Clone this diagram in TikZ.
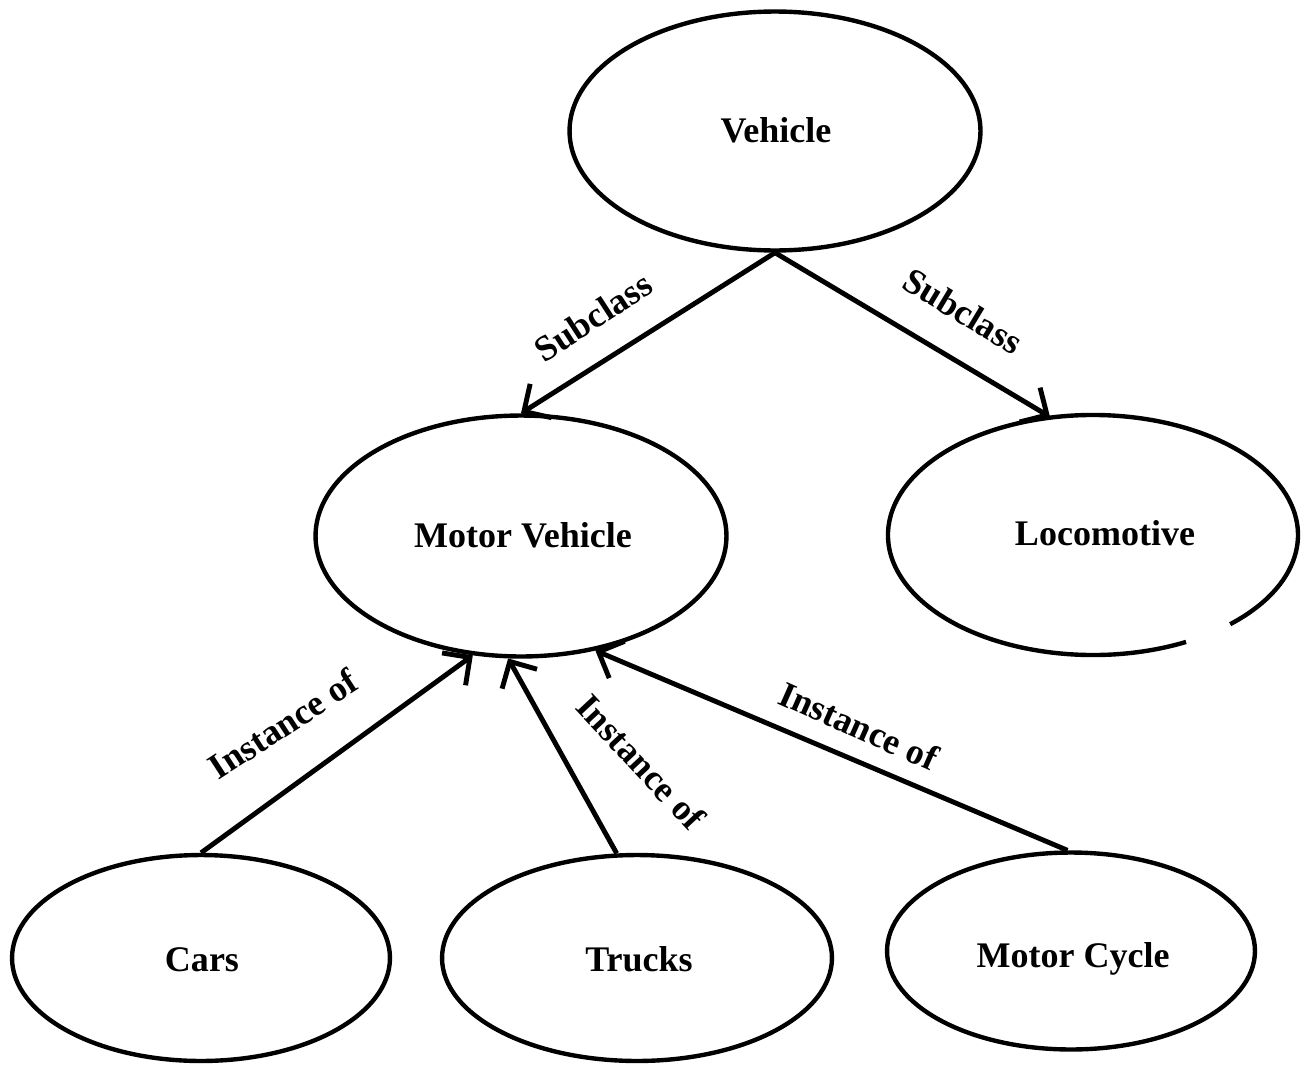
\documentclass[tikz,border=0pt]{standalone}
\usepackage{fontspec}
\setmainfont{Liberation Serif}
\usetikzlibrary{shapes.geometric,arrows.meta}
\begin{document}
\begin{tikzpicture}[x=0.02cm,y=-0.02cm,
  every node/.style={font=\bfseries\fontsize{20.5}{24}\selectfont},
  oval/.style={ellipse,draw,line width=2.5pt,inner sep=0pt},
  ovaltext/.style={anchor=base,inner sep=0pt},
  link/.style={line width=2.8pt,-{Straight Barb[length=0.4cm,width=0.8cm,line width=2.8pt]}},
  tag/.style={inner sep=1pt}]
\useasboundingbox (0,0) rectangle (1302,1065);

% class hierarchy
\node[oval,minimum width=8.22cm,minimum height=4.78cm] (veh) at (775,131) {};
\node[ovaltext] (vehT) at (776,142) {Vehicle};
\node[oval,minimum width=8.22cm,minimum height=4.82cm] (mv) at (521,536) {};
\node[ovaltext] (mvT) at (523,547) {Motor Vehicle};
\node[ellipse,inner sep=0pt,minimum width=8.22cm,minimum height=4.82cm] (loco) at (1093,535) {};
\node[ovaltext] (locoT) at (1105,545) {Locomotive};
% outline of the locomotive oval, with its small break at the lower right
\draw[line width=2.5pt] ([shift={(63:205 and 120)}]loco.center)
  arc[start angle=63,end angle=408,x radius=205,y radius=120];

% instances
\node[oval,minimum width=7.56cm,minimum height=4.12cm] (cars) at (201,958) {};
\node[ovaltext] (carsT) at (202,971) {Cars};
\node[oval,minimum width=7.8cm,minimum height=4.12cm] (trucks) at (637,958) {};
\node[ovaltext] (trucksT) at (639,971) {Trucks};
\node[oval,minimum width=7.36cm,minimum height=3.94cm] (mc) at (1071,951) {};
\node[ovaltext] (mcT) at (1073,967) {Motor Cycle};

% connectors
\draw[link] (veh.south) -- (mv.north);
\draw[link] (veh.south) -- (loco.110);
\draw[link] (cars.north) -- (mv.248);
\draw[link] (trucks.101) -- (mv.264);
\draw[link] (mc.92) -- (mv.303);

% connector labels
\node[tag,rotate=33] (l1) at (593,317) {Subclass};
\node[tag,rotate=-31] (l2) at (963,311) {Subclass};
\node[tag,rotate=33] (l3) at (283,724) {Instance of};
\node[tag,rotate=-47] (l4) at (641,762) {Instance of};
\node[tag,rotate=-24] (l5) at (859,726) {Instance of};
\end{tikzpicture}
\end{document}
